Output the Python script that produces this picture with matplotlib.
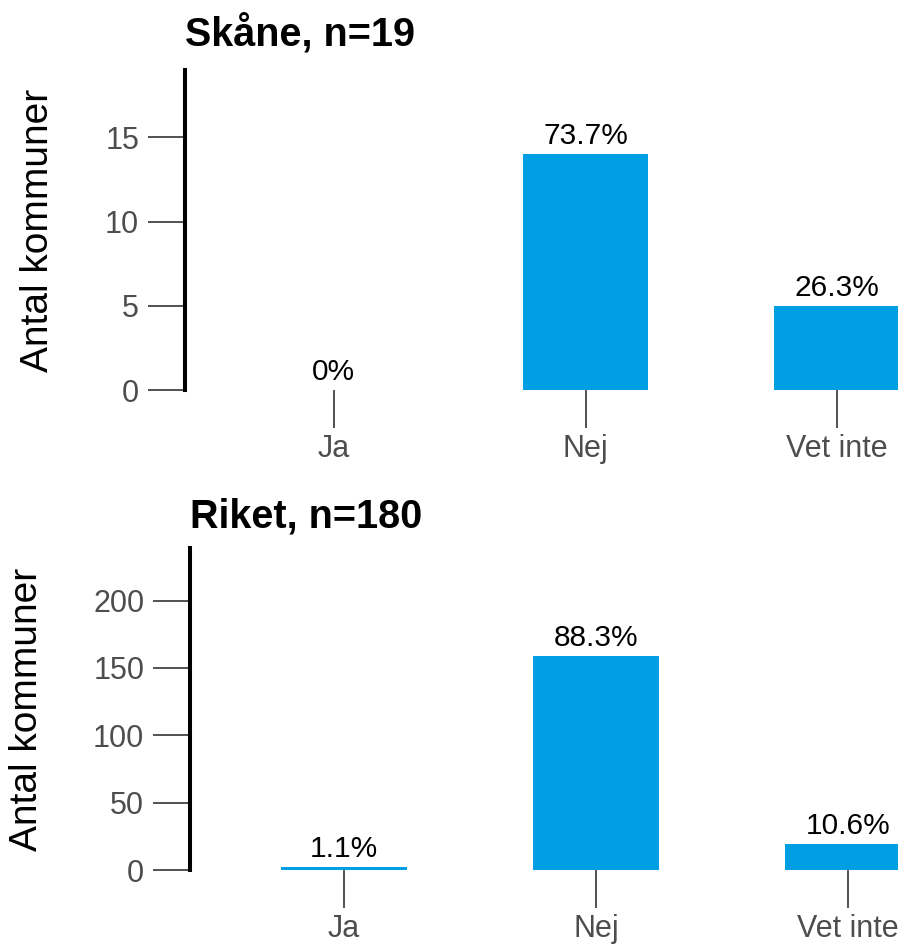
import matplotlib
matplotlib.use("Agg")
import matplotlib.pyplot as plt

plt.rcParams['font.family'] = ['Liberation Sans', 'DejaVu Sans']

kategorier = ['Ja', 'Nej', 'Vet inte']
skane = [0, 14, 5]
riket = [2, 159, 19]
titlar = ['Skåne, n=19', 'Riket, n=180']
ytick_skane = [0, 5, 10, 15]
ytick_riket = [0, 50, 100, 150, 200]

bla = '#009FE3'

fig = plt.figure(figsize=(8.98, 9.44), dpi=100)

# [left, bottom, width, height] i figurkoordinater
pos = [
    [185 / 898, 1 - 390 / 944, 715 / 898, 320 / 944],
    [190 / 898, 1 - 870 / 944, 721 / 898, 322 / 944],
]
ylims = [19, 239]
xlims = [(-0.592, 2.25), (-0.611, 2.25)]
yticks = [ytick_skane, ytick_riket]
label_x = [-0.181, -0.201]
title_pad = [18, 15]

for i, data in enumerate([skane, riket]):
    ax = fig.add_axes(pos[i])
    x = range(len(kategorier))
    ax.bar(x, data, width=0.5, color=bla)
    n = sum(data)
    for xi, v in zip(x, data):
        pct = v / n * 100
        txt = '0%' if v == 0 else f'{pct:.1f}%'
        ax.annotate(txt, (xi, v), xytext=(0, 3), textcoords='offset points',
                    ha='center', va='bottom', fontsize=21.5, color='black')
    ax.set_xlim(*xlims[i])
    ax.set_ylim(0, ylims[i])
    ax.set_xticks(list(x))
    ax.set_xticklabels(kategorier)
    ax.set_yticks(yticks[i])
    for s in ['top', 'right', 'bottom']:
        ax.spines[s].set_visible(False)
    ax.spines['left'].set_linewidth(2.9)
    ax.spines['left'].set_color('black')
    ax.tick_params(axis='x', length=27, width=1.2, color='#333333',
                   labelsize=22, labelcolor='#4D4D4D', pad=5)
    ax.tick_params(axis='y', length=27, width=1.2, color='#333333',
                   labelsize=22, labelcolor='#4D4D4D', pad=6)
    ax.set_ylabel('Antal kommuner', fontsize=28, color='black')
    ax.yaxis.set_label_coords(label_x[i], 0.5)
    ax.set_title(titlar[i], loc='left', fontsize=28.5, fontweight='bold',
                 pad=title_pad[i])

fig.savefig('out.png', dpi=100)
